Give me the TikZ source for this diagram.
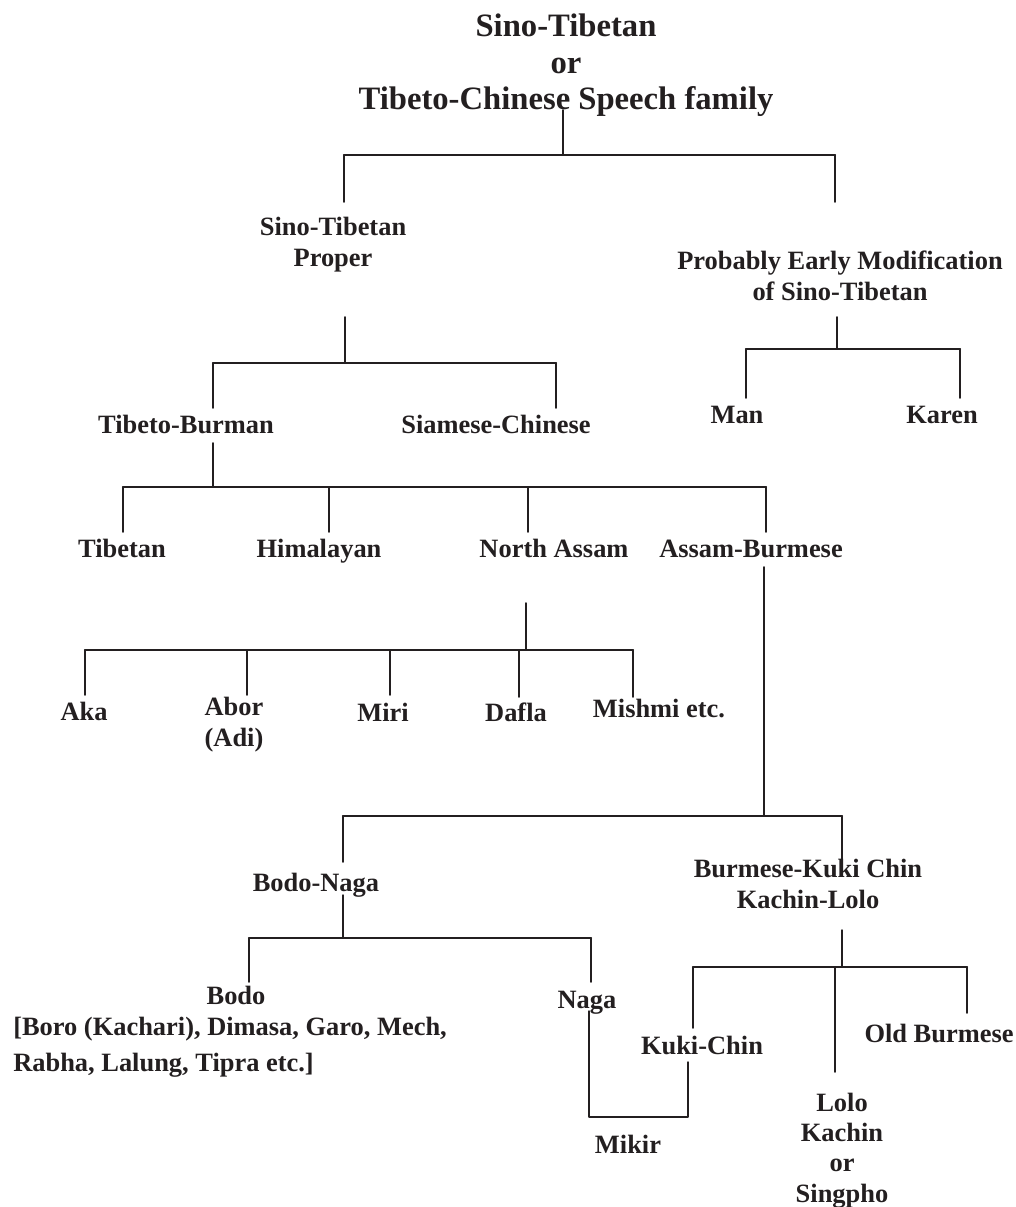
\documentclass[tikz,border=0pt]{standalone}
\usepackage{fontspec}
\setmainfont{Liberation Serif}
\usepackage{pgf,tikz}
\definecolor{ink}{HTML}{231F20}
\tikzset{
  lbl/.style={color=ink,inner sep=0pt,anchor=base,align=center,font=\fontsize{19.1}{22.4}\selectfont\bfseries},
  ttl/.style={lbl,font=\fontsize{23.6}{26.4}\selectfont\bfseries},
  stub/.style={color=ink,line width=1.1pt},
  bar/.style={color=ink,line width=1.6pt}
}

\begin{document}
\begin{tikzpicture}[line cap=round,line join=round,x=0.254cm,y=0.254cm]
\clip(0,-120.7) rectangle (101.6,0);
% labels (base = last line)
\draw (56.6,-11.0) node[ttl] (root) {Sino-Tibetan\\or\\Tibeto-Chinese Speech family};
\draw (33.3,-26.6) node[lbl] (stp) {Sino-Tibetan\\Proper};
\draw (84.0,-30.0) node[lbl] (pem) {Probably Early Modification\\of Sino-Tibetan};
\draw (18.6,-43.3) node[lbl] (tb) {Tibeto-Burman};
\draw (49.6,-43.3) node[lbl] (sc) {Siamese-Chinese};
\draw (73.7,-42.3) node[lbl] (man) {Man};
\draw (94.2,-42.3) node[lbl] (kar) {Karen};
\draw (12.2,-55.7) node[lbl] (tib) {Tibetan};
\draw (31.9,-55.7) node[lbl] (him) {Himalayan};
\draw (55.4,-55.7) node[lbl] (na) {North Assam};
\draw (75.1,-55.7) node[lbl] (ab) {Assam-Burmese};
\draw (8.4,-72.0) node[lbl] (aka) {Aka};
\draw (23.4,-74.6) node[lbl] (abor) {Abor\\(Adi)};
\draw (38.3,-72.1) node[lbl] (miri) {Miri};
\draw (51.6,-72.1) node[lbl] (dafla) {Dafla};
\draw (65.9,-71.7) node[lbl] (mish) {Mishmi etc.};
\draw (31.6,-89.1) node[lbl] (bn) {Bodo-Naga};
\draw (80.8,-90.8) node[lbl] (bkc) {Burmese-Kuki Chin\\Kachin-Lolo};
\draw (23.6,-100.4) node[lbl] (bodo) {Bodo};
\draw (1.3,-107.1) node[lbl,anchor=base west,align=left] (bodolist) {[Boro (Kachari), Dimasa, Garo, Mech,\\[3pt]Rabha, Lalung, Tipra etc.]};
\draw (58.7,-100.8) node[lbl] (naga) {Naga};
\draw (70.2,-105.4) node[lbl] (kc) {Kuki-Chin};
\draw (93.9,-104.2) node[lbl] (ob) {Old Burmese};
\draw (84.2,-120.2) node[lbl,font=\fontsize{19.1}{21.9}\selectfont\bfseries] (lolo) {Lolo\\Kachin\\or\\Singpho};
\draw (62.8,-115.3) node[lbl] (mikir) {Mikir};
% root
\coordinate (r0) at (56.3,-11.0);
\coordinate (r1) at (56.3,-15.5);
\coordinate (stpT) at (34.4,-20.2);
\coordinate (pemT) at (83.5,-20.2);
\draw[stub] (r0) -- (r1);
\draw[bar] (stpT |- r1) -- (pemT |- r1);
\foreach \c in {stpT,pemT} \draw[stub] (\c |- r1) -- (\c);
% Sino-Tibetan Proper
\coordinate (s0) at (34.5,-31.7);
\coordinate (s1) at (34.5,-36.3);
\coordinate (tbT) at (21.3,-40.8);
\coordinate (scT) at (55.6,-40.8);
\draw[stub] (s0) -- (s1);
\draw[bar] (tbT |- s1) -- (scT |- s1);
\foreach \c in {tbT,scT} \draw[stub] (\c |- s1) -- (\c);
% Probably Early Modification
\coordinate (p0) at (83.7,-31.7);
\coordinate (p1) at (83.7,-34.9);
\coordinate (manT) at (74.6,-39.8);
\coordinate (karT) at (96.0,-39.8);
\draw[stub] (p0) -- (p1);
\draw[bar] (manT |- p1) -- (karT |- p1);
\foreach \c in {manT,karT} \draw[stub] (\c |- p1) -- (\c);
% Tibeto-Burman
\coordinate (b0) at (21.3,-44.3);
\coordinate (b1) at (21.3,-48.7);
\coordinate (tibT) at (12.3,-53.2);
\coordinate (himT) at (32.9,-53.2);
\coordinate (naT) at (52.8,-53.2);
\coordinate (abT) at (76.6,-53.2);
\draw[stub] (b0) -- (b1);
\draw[bar] (tibT |- b1) -- (abT |- b1);
\foreach \c in {tibT,himT,naT,abT} \draw[stub] (\c |- b1) -- (\c);
% North Assam
\coordinate (n0) at (52.6,-60.3);
\coordinate (n1) at (52.6,-65.0);
\coordinate (akaT) at (8.5,-69.5);
\coordinate (aborT) at (24.7,-69.5);
\coordinate (miriT) at (39.0,-69.5);
\coordinate (daflaT) at (51.9,-69.7);
\coordinate (mishT) at (63.3,-69.7);
\draw[stub] (n0) -- (n1);
\draw[bar] (akaT |- n1) -- (mishT |- n1);
\foreach \c in {akaT,aborT,miriT,daflaT,mishT} \draw[stub] (\c |- n1) -- (\c);
% Assam-Burmese
\coordinate (a0) at (76.4,-56.7);
\coordinate (a1) at (76.4,-81.6);
\coordinate (bnT) at (34.3,-86.2);
\coordinate (bkcT) at (84.2,-86.0);
\draw[stub] (a0) -- (a1);
\draw[bar] (bnT |- a1) -- (bkcT |- a1);
\foreach \c in {bnT,bkcT} \draw[stub] (\c |- a1) -- (\c);
% Bodo-Naga
\coordinate (g0) at (34.3,-89.5);
\coordinate (g1) at (34.3,-93.8);
\coordinate (bodoT) at (24.9,-98.2);
\coordinate (nagaT) at (59.1,-98.2);
\draw[stub] (g0) -- (g1);
\draw[bar] (bodoT |- g1) -- (nagaT |- g1);
\foreach \c in {bodoT,nagaT} \draw[stub] (\c |- g1) -- (\c);
% Burmese-Kuki Chin
\coordinate (k0) at (84.2,-93.0);
\coordinate (k1) at (84.2,-96.7);
\coordinate (kcT) at (69.3,-102.8);
\coordinate (loloT) at (83.5,-107.2);
\coordinate (obT) at (96.7,-101.3);
\draw[stub] (k0) -- (k1);
\draw[bar] (kcT |- k1) -- (obT |- k1);
\foreach \c in {kcT,loloT,obT} \draw[stub] (\c |- k1) -- (\c);
% Mikir
\coordinate (m0) at (58.9,-101.1);
\coordinate (mb) at (63.8,-111.7);
\coordinate (m1) at (68.8,-106.2);
\draw[stub] (m0) |- (mb) -| (m1);
\end{tikzpicture}
\end{document}
